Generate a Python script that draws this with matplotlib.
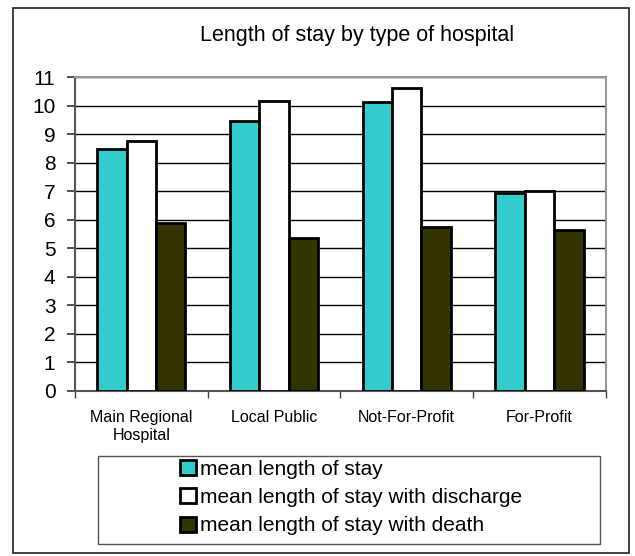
import numpy as np
import matplotlib.pyplot as plt
from matplotlib.patches import Rectangle

plt.rcParams['font.family'] = ['Liberation Sans', 'DejaVu Sans']

# -----------------------------
# DATA
# -----------------------------
categories = ["Main Regional\nHospital", "Local Public", "Not-For-Profit", "For-Profit"]
mean_stay = [8.47, 9.46, 10.12, 6.93]
mean_discharge = [8.76, 10.16, 10.62, 7.0]
mean_death = [5.9, 5.35, 5.75, 5.64]

series_names = ["mean length of stay",
                "mean length of stay with discharge",
                "mean length of stay with death"]
colors = ["#33CCCC", "#FFFFFF", "#333300"]

# -----------------------------
# PLOT
# -----------------------------
fig = plt.figure(figsize=(6.35, 5.56), dpi=100)
ax = fig.add_axes([0.118, 0.297, 0.836, 0.5645])

x = np.arange(len(categories))
w = 0.222
for i, vals in enumerate([mean_stay, mean_discharge, mean_death]):
    ax.bar(x + (i - 1) * w, vals, width=w, color=colors[i],
           edgecolor="black", linewidth=2, label=series_names[i], zorder=3)

ax.set_xlim(-0.5, len(categories) - 0.5)
ax.set_ylim(0, 11)
ax.set_yticks(range(0, 12))
ax.tick_params(axis="y", labelsize=15, length=6, width=1.2, color="#333333", pad=8)
ax.set_xticks(x)
ax.set_xticklabels(categories, fontsize=11.5, linespacing=1.2)
ax.tick_params(axis="x", length=0, pad=14)
ax.set_xticks(np.arange(-0.5, len(categories)), minor=True)
ax.tick_params(axis="x", which="minor", length=5, width=1, color="#444444")
ax.yaxis.grid(True, color="black", linewidth=1, zorder=0)
ax.set_axisbelow(True)
for s in ["top", "right"]:
    ax.spines[s].set_color("#999999")
    ax.spines[s].set_linewidth(1.5)
for s in ["left", "bottom"]:
    ax.spines[s].set_color("#555555")
    ax.spines[s].set_linewidth(1.5)

fig.text(0.562, 0.937, "Length of stay by type of hospital", ha="center",
         va="center", fontsize=15.5)

# legend
leg = fig.legend(loc="center", fontsize=15,
                 handlelength=0.75, handleheight=0.75, handletextpad=0.2,
                 labelspacing=0.45, frameon=False,
                 bbox_to_anchor=(0.553, 0.105), bbox_transform=fig.transFigure)
fig.patches.append(Rectangle((98 / 635, 1 - 544 / 556), 502 / 635, 88 / 556,
                             transform=fig.transFigure, fill=False,
                             edgecolor="#555555", linewidth=1))

# outer frame
fig.patches.append(Rectangle((13 / 635, 3 / 556), 616 / 635, 545 / 556,
                             transform=fig.transFigure, fill=False,
                             edgecolor="#222222", linewidth=1.2))

plt.savefig("out.png", dpi=100)
